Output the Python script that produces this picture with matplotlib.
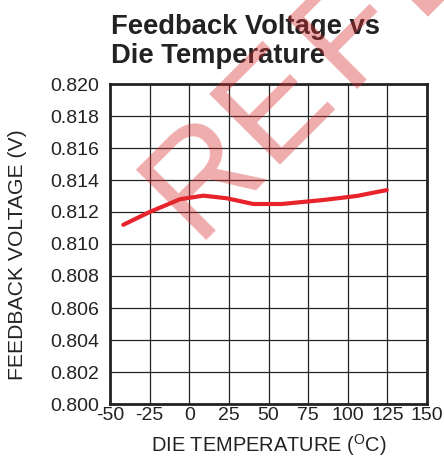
import matplotlib
matplotlib.use("Agg")
import matplotlib.pyplot as plt
import numpy as np

# data
temperature = [-41.6, -25, -5.8, 8.9, 23.6, 40.4, 58.3, 84.6, 105.6, 124.6]
voltage = [0.8112, 0.8120, 0.8128, 0.81302, 0.81286, 0.8125, 0.8125, 0.81275, 0.8130, 0.81337]
x_ticks = [-50, -25, 0, 25, 50, 75, 100, 125, 150]
y_ticks = [0.800, 0.802, 0.804, 0.806, 0.808, 0.810, 0.812, 0.814, 0.816, 0.818, 0.820]
title_lines = ["Feedback Voltage vs", "Die Temperature"]
watermark_letters = ["R", "E", "F", "E"]

plt.rcParams['font.family'] = ['Liberation Sans', 'DejaVu Sans']
plt.rcParams['mathtext.fontset'] = 'custom'
plt.rcParams['mathtext.rm'] = 'Liberation Sans'

W, H = 444, 459
fig = plt.figure(figsize=(W / 100, H / 100), dpi=100)
ax = fig.add_axes([110 / W, 1 - 404 / H, 317 / W, 320 / H])

ax.plot(temperature, voltage, color='#e8232b', lw=3.0, solid_capstyle='round', zorder=3)

ax.set_xlim(-50, 150)
ax.set_ylim(0.800, 0.820)
ax.set_xticks(x_ticks)
ax.set_yticks(y_ticks)
ax.set_xticklabels([str(t) for t in x_ticks])
ax.set_yticklabels([f"{v:.3f}" for v in y_ticks])
ax.grid(True, color='#222222', lw=0.9)
ax.tick_params(length=0, labelsize=14, colors='#222222')
ax.tick_params(axis='y', pad=8)
ax.tick_params(axis='x', pad=2)
for s in ax.spines.values():
    s.set_linewidth(2.0)
    s.set_color('#222222')

ax.set_xlabel("DIE TEMPERATURE ($^{\\rm O}$C)", fontsize=14.4, color='#222222', labelpad=6)
fig.text(18 / W, 1 - 255 / H, "FEEDBACK VOLTAGE (V)", fontsize=15.2, color='#222222',
         rotation=90, ha='center', va='center')

fig.text(111 / W, 1 - 34.3 / H, title_lines[0], fontsize=19.7,
         fontweight='bold', color='#222222', ha='left', va='baseline')
fig.text(111 / W, 1 - 63.3 / H, title_lines[1], fontsize=19.7,
         fontweight='bold', color='#222222', ha='left', va='baseline')

# watermark: letters placed along a 45 degree baseline (pixel positions)
stem_s = [-23.6, 81.3, 190.0, 291.0]   # position of each letter's stem along baseline
base_sum = 455.0
lsb = 11.4
r2 = np.sqrt(2)
for ch, s in zip(watermark_letters, stem_s):
    so = s - lsb
    px = (base_sum + so * r2) / 2 - 9
    py = (base_sum - so * r2) / 2 - 13
    fig.text(px / W, 1 - py / H, ch, fontsize=104, color='#d83030', alpha=0.4,
             rotation=45, rotation_mode='anchor', ha='left', va='baseline',
             family='Liberation Sans', zorder=10)

fig.savefig("out.png", dpi=100)
